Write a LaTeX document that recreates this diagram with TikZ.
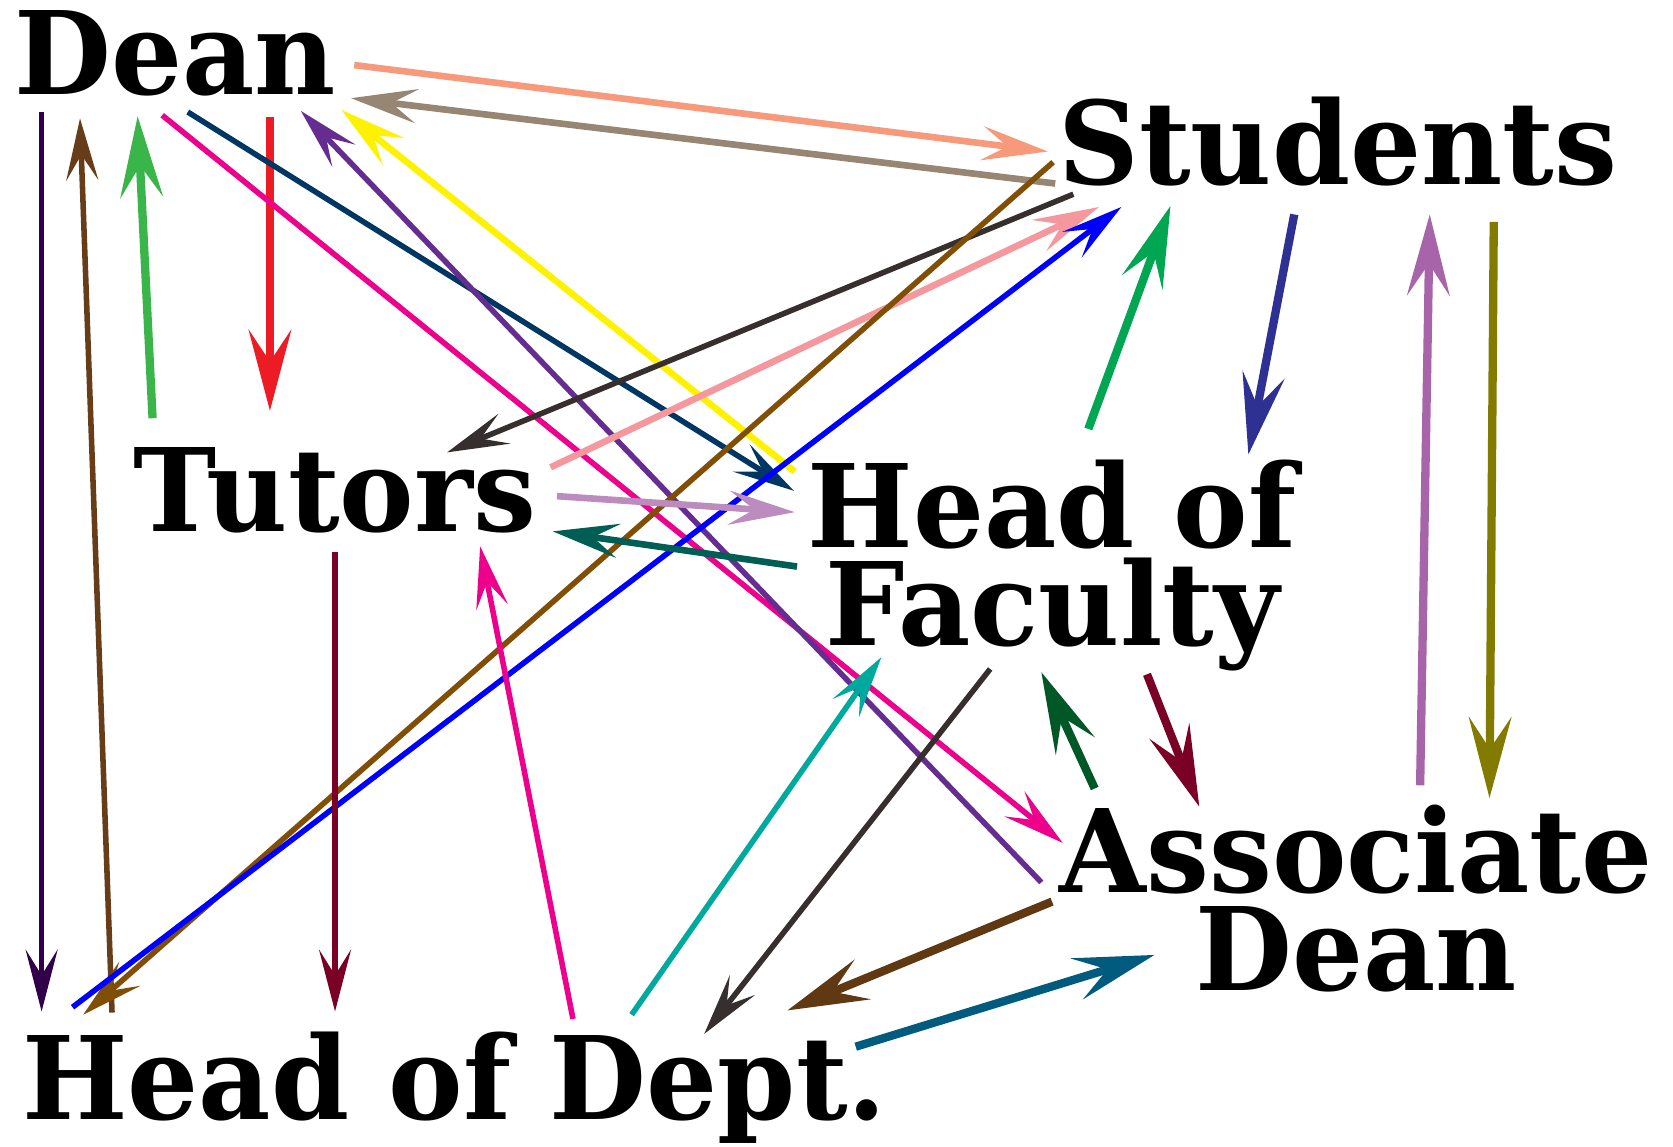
\documentclass[tikz,border=0pt]{standalone}
\usepackage{fontspec}
\setmainfont{DejaVu Serif}[FakeStretch=0.97]
\usetikzlibrary{arrows.meta}

\tikzset{every picture/.style={line width=0.75pt}}
\tikzset{
  word/.style={inner sep=0pt, align=center, font=\fontsize{54}{46}\selectfont\bfseries},
  thinarrow/.style={line width=2.6pt, -{Stealth[length=29pt, width=15pt, inset=12pt]}},
  medarrow/.style={line width=3.1pt, -{Stealth[length=31pt, width=16pt, inset=12pt]}},
  thickarrow/.style={line width=3.9pt, -{Stealth[length=38pt, width=20pt, inset=15pt]}}
}

\begin{document}
\begin{tikzpicture}[x=0.5pt,y=0.5pt,yscale=-1,xscale=1]
  \useasboundingbox (0,0) rectangle (1568,1075); %set diagram left start at 0, and has height of 1075

  \node [word] (dean) at (164,50) {Dean};
  \node [word] (students) at (1254,133) {Students};
  \node [word] (tutors) at (314,460) {Tutors};
  \node [word] (hof) at (986,530) {Head of\\Faculty};
  \node [word] (assoc) at (1271,842) {Associate\\Dean};
  \node [word] (hod) at (426,1019) {Head of Dept.};

  % from Dean
  \draw [color={rgb, 255:red, 247; green, 154; blue, 123 }, medarrow] ([shift={(168,11)}]dean.center) -- ([shift={(-272,9)}]students.center) ;
  \draw [color={rgb, 255:red, 50; green, 0; blue, 75 }, thinarrow] ([shift={(-125,55)}]dean.center) -- ([shift={(-387,-71)}]hod.center) ;
  \draw [color={rgb, 255:red, 237; green, 28; blue, 36 }, thickarrow] ([shift={(89,60)}]dean.center) -- ([shift={(-61,-75)}]tutors.center) ;
  \draw [color={rgb, 255:red, 236; green, 0; blue, 140 }, thinarrow] ([shift={(-12,58)}]dean.center) -- ([shift={(-275,-52)}]assoc.center) ;
  \draw [color={rgb, 255:red, 0; green, 54; blue, 99 }, thinarrow] ([shift={(12,55)}]dean.center) -- ([shift={(-242,-70)}]hof.center) ;

  % to Dean
  \draw [color={rgb, 255:red, 152; green, 134; blue, 117 }, medarrow] ([shift={(-265,39)}]students.center) -- ([shift={(165,42)}]dean.center) ;
  \draw [color={rgb, 255:red, 102; green, 61; blue, 24 }, thinarrow] ([shift={(-321,-70)}]hod.center) -- ([shift={(-89,61)}]dean.center) ;
  \draw [color={rgb, 255:red, 57; green, 181; blue, 74 }, thickarrow] ([shift={(-171,-68)}]tutors.center) -- ([shift={(-35,59)}]dean.center) ;
  \draw [color={rgb, 255:red, 102; green, 45; blue, 145 }, thinarrow] ([shift={(-295,-15)}]assoc.center) -- ([shift={(118,54)}]dean.center) ;
  \draw [color={rgb, 255:red, 255; green, 242; blue, 0 }, medarrow] ([shift={(-241,-88)}]hof.center) -- ([shift={(156,53)}]dean.center) ;

  % Students
  \draw [color={rgb, 255:red, 54; green, 47; blue, 45 }, thinarrow] ([shift={(-248,49)}]students.center) -- ([shift={(105,-36)}]tutors.center) ;
  \draw [color={rgb, 255:red, 245; green, 152; blue, 157 }, medarrow] ([shift={(202,-22)}]tutors.center) -- ([shift={(-224,61)}]students.center) ;
  \draw [color={rgb, 255:red, 128; green, 78; blue, 4 }, thinarrow] ([shift={(-267,19)}]students.center) -- ([shift={(-348,-68)}]hod.center) ;
  \draw [color={rgb, 255:red, 0; green, 0; blue, 255 }, thinarrow] ([shift={(-358,-75)}]hod.center) -- ([shift={(-203,61)}]students.center) ;
  \draw [color={rgb, 255:red, 0; green, 166; blue, 81 }, thickarrow] ([shift={(34,-128)}]hof.center) -- ([shift={(-157,60)}]students.center) ;
  \draw [color={rgb, 255:red, 46; green, 49; blue, 146 }, thickarrow] ([shift={(-41,68)}]students.center) -- ([shift={(184,-104)}]hof.center) ;
  \draw [color={rgb, 255:red, 168; green, 100; blue, 168 }, thickarrow] ([shift={(60,-106)}]assoc.center) -- ([shift={(86,68)}]students.center) ;
  \draw [color={rgb, 255:red, 130; green, 123; blue, 0 }, thickarrow] ([shift={(146,75)}]students.center) -- ([shift={(125,-94)}]assoc.center) ;

  % Tutors
  \draw [color={rgb, 255:red, 189; green, 140; blue, 191 }, medarrow] ([shift={(208,5)}]tutors.center) -- ([shift={(-241,-50)}]hof.center) ;
  \draw [color={rgb, 255:red, 0; green, 94; blue, 84 }, medarrow] ([shift={(-239,1)}]hof.center) -- ([shift={(204,38)}]tutors.center) ;
  \draw [color={rgb, 255:red, 122; green, 0; blue, 38 }, thinarrow] ([shift={(0,57)}]tutors.center) -- ([shift={(-112,-71)}]hod.center) ;
  \draw [color={rgb, 255:red, 236; green, 0; blue, 140 }, thinarrow] ([shift={(111,-64)}]hod.center) -- ([shift={(136,52)}]tutors.center) ;

  % Head of Faculty, Associate Dean, Head of Dept.
  \draw [color={rgb, 255:red, 0; green, 169; blue, 157 }, thinarrow] ([shift={(166,-68)}]hod.center) -- ([shift={(-160,86)}]hof.center) ;
  \draw [color={rgb, 255:red, 54; green, 47; blue, 45 }, thinarrow] ([shift={(-58,97)}]hof.center) -- ([shift={(234,-50)}]hod.center) ;
  \draw [color={rgb, 255:red, 0; green, 88; blue, 38 }, thickarrow] ([shift={(-245,-103)}]assoc.center) -- ([shift={(-10,100)}]hof.center) ;
  \draw [color={rgb, 255:red, 122; green, 0; blue, 38 }, thickarrow] ([shift={(89,102)}]hof.center) -- ([shift={(-147,-86)}]assoc.center) ;
  \draw [color={rgb, 255:red, 96; green, 57; blue, 19 }, thickarrow] ([shift={(-285,3)}]assoc.center) -- ([shift={(312,-72)}]hod.center) ;
  \draw [color={rgb, 255:red, 0; green, 91; blue, 127 }, thickarrow] ([shift={(376,-38)}]hod.center) -- ([shift={(-189,53)}]assoc.center) ;

\end{tikzpicture}
\end{document}
